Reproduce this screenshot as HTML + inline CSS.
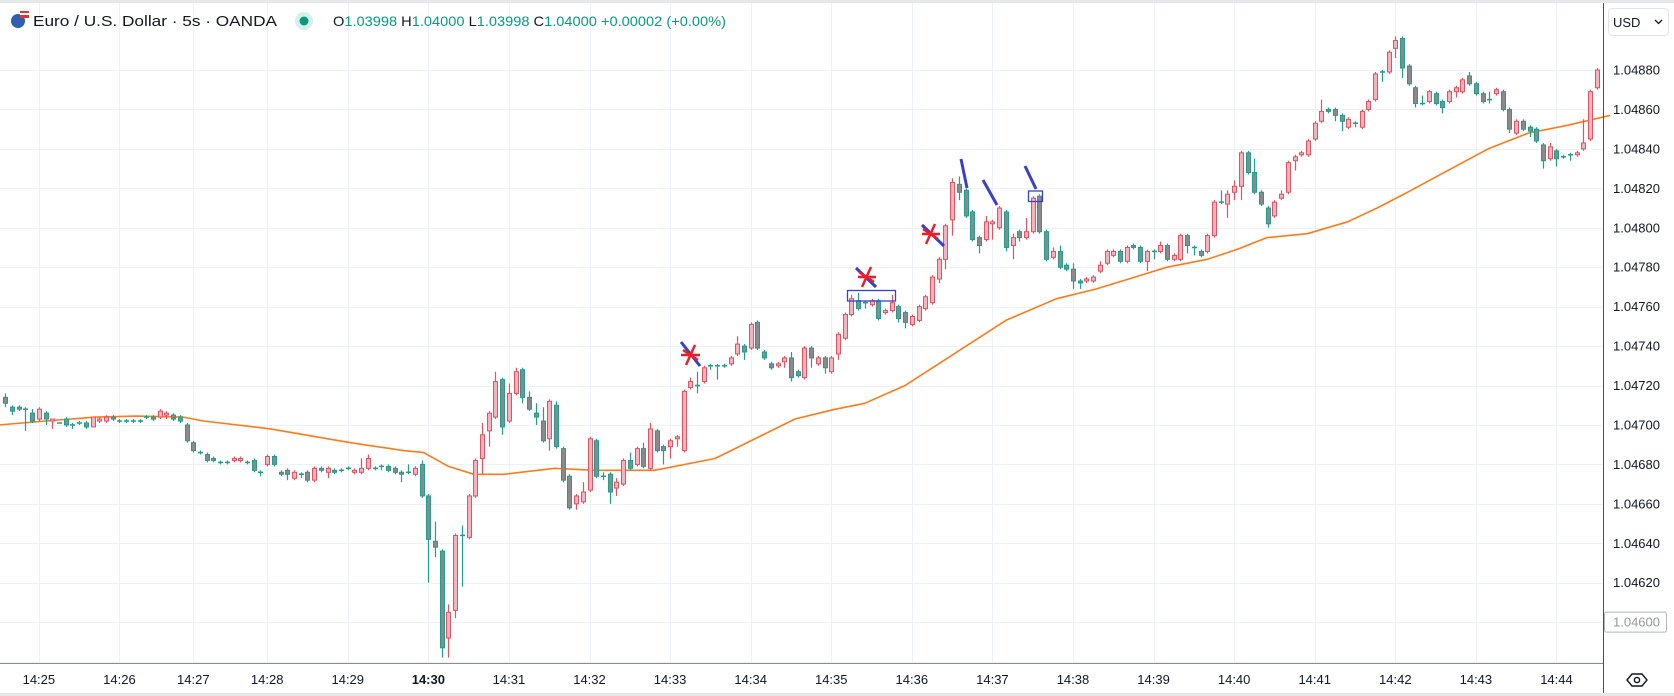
<!DOCTYPE html>
<html>
<head>
<meta charset="utf-8">
<style>
  html,body{margin:0;padding:0;background:#fff;}
  body{width:1674px;height:696px;overflow:hidden;font-family:"Liberation Sans",sans-serif;}
  svg{display:block;}
  text{font-family:"Liberation Sans",sans-serif;}
</style>
</head>
<body>
<svg id="chart" width="1674" height="696" viewBox="0 0 1674 696" xmlns="http://www.w3.org/2000/svg">
  <defs>
    <clipPath id="clipTop"><rect x="1604" y="0" width="70" height="657"/></clipPath>
  </defs>
  <rect x="0" y="0" width="1674" height="696" fill="#ffffff"/>
  <g id="grid"></g>
  <g id="ma"></g>
  <g id="candles"></g>
  <g id="annotations">
    <line x1="681" y1="342" x2="700" y2="366" stroke="#3a3fcc" stroke-width="3"/>
    <g stroke="#e8202a" stroke-width="2.5">
      <line x1="681" y1="355" x2="700" y2="355"/><line x1="686" y1="365" x2="695" y2="345"/><line x1="683" y1="350" x2="698" y2="360"/>
    </g>
    <line x1="856" y1="268" x2="876" y2="287" stroke="#3a3fcc" stroke-width="3"/>
    <g stroke="#e8202a" stroke-width="2.5">
      <line x1="858" y1="277" x2="876" y2="277"/><line x1="862" y1="287" x2="871" y2="267"/><line x1="859" y1="272" x2="874" y2="282"/>
    </g>
    <rect x="847.5" y="290.5" width="48" height="10.5" fill="none" stroke="#3a3fcc" stroke-width="1.3"/>
    <line x1="922" y1="225" x2="944" y2="246" stroke="#3a3fcc" stroke-width="3"/>
    <g stroke="#e8202a" stroke-width="2.5">
      <line x1="922" y1="234" x2="940" y2="234"/><line x1="926" y1="244" x2="935" y2="224"/><line x1="923" y1="229" x2="938" y2="239"/>
    </g>
    <line x1="961" y1="159" x2="967" y2="188" stroke="#3a3fcc" stroke-width="3"/>
    <line x1="983" y1="180" x2="997" y2="205" stroke="#3a3fcc" stroke-width="3"/>
    <line x1="1025" y1="166" x2="1036" y2="189" stroke="#3a3fcc" stroke-width="3"/>
    <rect x="1028.5" y="191" width="14" height="10.5" fill="none" stroke="#3a3fcc" stroke-width="1.3"/>
  </g>
  <g id="axes"></g>

  <rect x="0" y="0" width="1674" height="3" fill="#e6e8ec"/>
  <g>
    <circle cx="18" cy="21" r="7" fill="#2f5fb0"/>
    <rect x="20" y="11" width="9" height="7" fill="#d23a3a"/>
    <rect x="20" y="13" width="9" height="2" fill="#fff"/>
  </g>
  <text x="33" y="26" font-size="15" fill="#131722" textLength="244" lengthAdjust="spacingAndGlyphs">Euro / U.S. Dollar · 5s · OANDA</text>
  <circle cx="304" cy="21" r="9" fill="#d6f0ea"/>
  <circle cx="304" cy="21" r="4.5" fill="#089981"/>
  <text x="333" y="26" font-size="14" textLength="393" lengthAdjust="spacingAndGlyphs"><tspan fill="#131722">O</tspan><tspan fill="#089981">1.03998 </tspan><tspan fill="#131722">H</tspan><tspan fill="#089981">1.04000 </tspan><tspan fill="#131722">L</tspan><tspan fill="#089981">1.03998 </tspan><tspan fill="#131722">C</tspan><tspan fill="#089981">1.04000 +0.00002 (+0.00%)</tspan></text>

  <g>
    <rect x="1608.5" y="8.5" width="60" height="27" rx="4" fill="#fff" stroke="#e0e3eb"/>
    <text x="1613" y="27" font-size="13" fill="#131722">USD</text>
    <path d="M1655 20 l3.5 3.5 l3.5 -3.5" fill="none" stroke="#131722" stroke-width="1.3"/>
  </g>
  <g>
    <path d="M1627 680 l5 -6 h10 l5 6 l-5 6 h-10 z" fill="none" stroke="#131722" stroke-width="1.4"/>
    <circle cx="1637" cy="680" r="2.6" fill="none" stroke="#131722" stroke-width="1.4"/>
  </g>
</svg>
<script>
const opens  = [714,709,709,708,706,703,706,702,701,703,700,701,701,699,702,702,704,702,702,702,702,704,704,704,705,705,704,700,691,686,
685,683,681,681,682,682,681,682,676,680,684,676,677,673,675,676,672,678,676,677,677,678,676,676,678,678,679,679,678,676,676,675,
680,664,641,636,592,606,644,643,664,683,697,704,723,702,716,728,714,706,702,693,710,688,674,660,661,667,692,674,675,668,670,682,680,
688,678,697,689,689,693,687,719,720,722,730,730,730,731,736,740,739,752,737,731,730,732,734,727,724,739,731,734,727,736,744,756,763,762,761,763,757,758,760,
757,751,753,759,762,774,784,804,822,819,808,795,794,802,800,808,791,798,795,798,816,798,785,788,781,779,773,773,773,778,
782,786,788,783,791,790,783,788,788,791,784,784,796,790,788,788,796,813,812,818,821,838,828,818,810,806,815,818,834,837,837,845,854,860,860,857,851,853,851,860,865,879,879,891,896,882,871,863,864,868,864,864,869,869,877,873,868,865,868,
869,860,848,854,851,850,842,835,839,836,837,837,840,845,871];
const closes = [711,707,708,708,702,708,703,703,701,700,700,701,699,704,703,704,703,702,702,702,702,704,703,707,706,703,702,692,687,686,
682,682,681,681,683,683,681,677,676,684,680,675,675,676,675,672,678,677,678,676,677,678,677,678,683,678,679,677,676,675,676,678,
664,642,638,587,605,644,644,664,682,695,706,722,699,716,727,714,708,704,692,712,689,672,658,664,666,693,674,674,666,671,682,678,688,
679,698,687,687,692,694,717,722,720,729,730,730,730,734,741,737,751,739,734,729,731,734,724,725,739,734,734,729,734,746,756,764,759,762,763,754,758,762,754,
752,755,760,765,775,784,801,823,818,806,794,791,803,803,810,790,795,795,798,815,798,784,788,780,779,773,772,774,775,781,
788,788,783,790,790,783,788,788,791,784,786,796,791,790,786,796,813,813,817,821,838,828,818,812,802,813,817,833,836,838,844,853,859,859,857,854,855,853,859,864,878,879,889,895,881,873,863,863,869,863,861,869,871,875,873,868,864,865,870,
860,850,854,850,849,844,834,841,835,836,837,838,843,869,880];
const highs  = [716,710,710,709,708,709,707,703,701,704,701,702,702,704,704,705,705,703,703,703,703,705,705,708,707,706,705,701,692,687,
686,684,682,682,684,684,682,683,677,685,685,677,678,677,676,677,679,679,679,678,678,679,678,683,685,679,680,680,679,677,680,679,
682,665,651,637,609,645,649,665,683,701,707,727,724,721,729,729,717,711,709,713,712,689,675,665,671,694,693,676,676,673,683,686,689,
691,701,698,690,693,695,718,724,727,730,731,731,731,735,745,741,752,753,738,732,732,735,737,728,740,740,735,735,735,747,757,766,767,763,764,764,759,766,761,
758,756,761,766,776,785,802,825,826,820,809,796,806,804,811,809,797,799,805,816,817,799,790,791,782,782,774,775,776,783,
789,789,789,791,792,791,789,789,793,792,787,797,797,791,789,797,814,819,819,824,839,839,835,819,811,814,819,834,837,839,845,854,865,861,861,858,856,854,860,865,879,880,890,897,897,883,872,867,870,869,865,870,872,876,879,874,869,869,871,
870,861,855,855,852,851,843,843,840,837,838,839,855,870,881];
const lows   = [709,705,707,697,701,702,700,698,701,699,698,700,698,699,701,701,702,701,701,701,701,703,702,703,703,702,701,691,686,685,
681,681,680,680,681,681,680,676,674,679,679,674,672,672,673,671,671,676,673,675,676,677,675,675,677,677,677,676,675,671,675,674,
663,620,633,582,582,602,618,642,663,675,689,703,695,701,715,711,707,700,691,687,688,671,657,657,660,666,673,672,660,664,669,677,679,
678,677,686,680,683,689,686,718,716,721,728,723,729,730,735,733,738,738,733,728,729,729,722,724,723,729,730,726,726,733,743,755,758,759,760,753,756,757,752,
749,750,752,758,761,772,779,796,814,805,793,787,793,794,799,788,784,793,794,797,797,783,784,779,778,769,769,772,772,777,
781,785,782,782,789,782,778,784,787,783,783,783,787,786,785,787,795,812,805,814,814,827,817,811,800,805,814,817,829,836,836,844,853,858,854,849,850,851,850,859,864,874,878,886,876,872,861,862,863,862,858,863,866,868,872,867,863,863,867,
859,848,847,849,846,843,830,834,831,835,834,836,839,844,870];
const maIdx  = [-1,6,13.5,19.4,26.5,29.5,39.5,51.4,59.3,62.3,66,69.8,74.3,81.8,87.7,96.7,105.7,117.6,123.6,128,134,149,156.5,162.5,173,179,183.4,187.9,193.9,199.9,204.3,208.8,214.8,220.8,226.8,232.7,239];
const maVals = [700,702,704,704.5,704,702,698,691,687,686,679,675,675,678,677,677,683,703,708,711,720,753,764,769,780,784,789,795,797,803,810,818,829,840,848,852,857];
const priceTicks = [880,860,840,820,800,780,760,740,720,700,680,660,640,620,600,580];
const timeTickIdx = [5,17,28,39,51,63,75,87,99,111,123,135,147,159,171,183,195,207,219,231];
const timeTickLabels = ["14:25","14:26","14:27","14:28","14:29","14:30","14:31","14:32","14:33","14:34","14:35","14:36","14:37","14:38","14:39","14:40","14:41","14:42","14:43","14:44"];

const NS = "http://www.w3.org/2000/svg";
function xScale(i){ return 5.3 + i * 6.715; }
function yScale(p){ return 70 + (880 - p) * 1.972; }
function mk(tag, attrs, parent){
  const e = document.createElementNS(NS, tag);
  for (const k in attrs) e.setAttribute(k, attrs[k]);
  parent.appendChild(e);
  return e;
}
const grid = document.getElementById('grid');
const axes = document.getElementById('axes');
const candlesG = document.getElementById('candles');
const maG = document.getElementById('ma');

priceTicks.forEach(function(p){
  const y = Math.round(yScale(p)) + 0.5;
  const l = mk('line', {x1:0, x2:1603, y1:y, y2:y, stroke:'#eef1f5', 'stroke-width':1}, grid);
  
  
});
timeTickIdx.forEach(function(t){
  const x = Math.round(xScale(t)) + 0.5;
  const l = mk('line', {x1:x, x2:x, y1:3, y2:663, stroke:'#eef1f5', 'stroke-width':1}, grid);
  
  
});

let d = '';
maIdx.forEach(function(t, k){
  d += (k ? 'L' : 'M') + xScale(t).toFixed(1) + ' ' + yScale(maVals[k]).toFixed(1);
});
const maPath = mk('path', {d:d, fill:'none', stroke:'#ff7a1a', 'stroke-width':1.6, 'stroke-linejoin':'round'}, maG);



opens.forEach(function(o, i){
  const c = closes[i], h = highs[i], lo = lows[i];
  const up = c > o;
  const flat = c === o;
  const stroke = up ? '#e3525e' : '#1f9e8e';
  const fill = up ? '#f6b3be' : '#8a8a8a';
  const x = Math.round(xScale(i));
  const g = mk('g', {}, candlesG);
  
  
  mk('line', {x1:x+0.5, x2:x+0.5, y1:yScale(h), y2:yScale(lo), stroke:stroke, 'stroke-width':1.2}, g);
  if (flat) {
    mk('line', {x1:x-2, x2:x+3, y1:yScale(o), y2:yScale(o), stroke:stroke, 'stroke-width':1.5}, g);
  } else {
    const yt = yScale(Math.max(o, c)), yb = yScale(Math.min(o, c));
    mk('rect', {x:x-1.5, y:yt, width:4, height:Math.max(yb-yt, 1.5), fill:fill, stroke:stroke, 'stroke-width':1}, g);
  }
});

const sep = mk('line', {x1:1603.5, x2:1603.5, y1:0, y2:696, stroke:'#4a4e59', 'stroke-width':1}, axes);


const bl = mk('line', {x1:0, x2:1603, y1:663.5, y2:663.5, stroke:'#8a8d96', 'stroke-width':1}, axes);


mk('rect', {x:0, y:693, width:1674, height:3, fill:'#e6e8ec'}, axes);

priceTicks.forEach(function(p){
  const y = yScale(p);
  if (y > 650) return;
  if (p === 600) {
    const bx = mk('rect', {x:1604.5, y:y-10, width:62, height:20, fill:'#fff', stroke:'#b2b5be', 'stroke-width':1, rx:2}, axes);
    
    
  }
  const t = mk('text', {x:1613, y:y+4.5, 'font-size':13, fill: p === 600 ? '#9598a1' : '#131722', textLength:47, lengthAdjust:'spacingAndGlyphs'}, axes);
  t.textContent = (1.04 + p / 100000).toFixed(5);
  
  
});
const pl = mk('text', {x:1613, y:yScale(580)+4.5, 'font-size':13, fill:'#131722', textLength:47, lengthAdjust:'spacingAndGlyphs', 'clip-path':'url(#clipTop)'}, axes);
pl.textContent = '1.04580';



timeTickIdx.forEach(function(t, k){
  const lab = timeTickLabels[k];
  const tx = mk('text', {x:xScale(t), y:684, 'font-size':13, fill:'#131722', 'text-anchor':'middle', 'font-weight': lab === '14:30' ? 'bold' : 'normal'}, axes);
  tx.textContent = lab;
  
  
});
</script>
</body>
</html>
